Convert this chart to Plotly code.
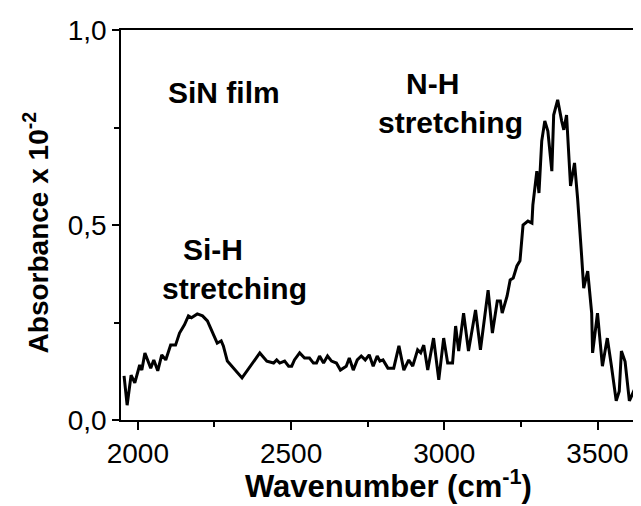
import plotly.graph_objects as go

# FTIR spectrum of SiN film
wavenumber = [
    1955, 1965, 1978, 1990, 2006, 2013, 2023, 2042, 2052, 2065, 2078, 2091,
    2107, 2123, 2136, 2152, 2165, 2175, 2194, 2211, 2227, 2243, 2259, 2272,
    2279, 2292, 2340, 2398, 2421, 2443, 2453, 2463, 2479, 2492, 2502, 2511,
    2528, 2544, 2560, 2573, 2583, 2593, 2606, 2619, 2632, 2648, 2661, 2680,
    2690, 2703, 2716, 2729, 2742, 2755, 2768, 2781, 2790, 2800, 2816, 2835,
    2852, 2868, 2884, 2897, 2913, 2923, 2933, 2946, 2965, 2982, 2998, 3011,
    3027, 3037, 3047, 3063, 3079, 3102, 3118, 3143, 3157, 3173, 3183, 3189,
    3205, 3215, 3225, 3237, 3247, 3257, 3273, 3286, 3289, 3302, 3309, 3318,
    3328, 3338, 3351, 3357, 3370, 3383, 3390, 3399, 3402, 3412, 3425, 3435,
    3448, 3455, 3468, 3481, 3484, 3500, 3516, 3532, 3545, 3561, 3571, 3578,
    3590, 3604, 3620, 3629,
]
absorbance = [
    0.113, 0.038, 0.115, 0.095, 0.141, 0.128, 0.172, 0.133, 0.154, 0.126, 0.167, 0.154,
    0.192, 0.192, 0.223, 0.244, 0.267, 0.262, 0.272, 0.267, 0.254, 0.223, 0.197, 0.203,
    0.190, 0.151, 0.108, 0.172, 0.151, 0.146, 0.154, 0.146, 0.151, 0.138, 0.138, 0.154,
    0.172, 0.159, 0.159, 0.146, 0.146, 0.164, 0.146, 0.164, 0.151, 0.146, 0.128, 0.138,
    0.159, 0.128, 0.154, 0.164, 0.154, 0.167, 0.138, 0.164, 0.151, 0.154, 0.133, 0.133,
    0.190, 0.128, 0.154, 0.138, 0.180, 0.172, 0.192, 0.128, 0.210, 0.103, 0.210, 0.146,
    0.146, 0.241, 0.177, 0.274, 0.177, 0.282, 0.180, 0.333, 0.223, 0.305, 0.305, 0.274,
    0.318, 0.359, 0.364, 0.395, 0.408, 0.500, 0.510, 0.505, 0.551, 0.638, 0.582, 0.715,
    0.767, 0.741, 0.638, 0.782, 0.821, 0.767, 0.744, 0.782, 0.731, 0.600, 0.659, 0.569,
    0.423, 0.338, 0.382, 0.274, 0.172, 0.274, 0.138, 0.210, 0.141, 0.049, 0.074, 0.177,
    0.150, 0.049, 0.077, 0.005,
]

# peak labels
labels = ["SiN film", "Si-H", "stretching", "N-H", "stretching"]
label_x = [2280, 2244, 2316, 2963, 3021]
label_y = [0.841, 0.438, 0.336, 0.862, 0.764]

FONT = 'Liberation Sans, Arial'

fig = go.Figure()
fig.add_trace(go.Scatter(
    x=wavenumber,
    y=absorbance,
    mode='lines',
    line=dict(color='black', width=3),
    showlegend=False,
))

for text, lx, ly in zip(labels, label_x, label_y):
    fig.add_annotation(
        x=lx, y=ly, text=f"<b>{text}</b>", showarrow=False,
        font=dict(size=30, color='black', family=FONT),
    )

# axis titles as paper annotations so they sit where the reference has them
fig.add_annotation(
    xref='paper', yref='paper', x=0.51, y=-0.163,
    text='<b>Wavenumber (cm<sup>-1</sup>)</b>', showarrow=False,
    font=dict(size=31, color='black', family=FONT),
    xanchor='center', yanchor='middle',
)
fig.add_annotation(
    xref='paper', yref='paper', x=-0.163, y=0.48,
    text='<b>Absorbance x 10<sup>-2</sup></b>', showarrow=False,
    textangle=-90,
    font=dict(size=28, color='black', family=FONT),
    xanchor='center', yanchor='middle',
)

fig.update_layout(
    width=641,
    height=506,
    margin=dict(l=113, r=2, t=22, b=94),
    paper_bgcolor='white',
    plot_bgcolor='white',
    separators=',.',
    font=dict(family=FONT, color='black', size=28),
)

fig.update_xaxes(
    range=[1945, 3655],
    tickvals=[2000, 2500, 3000, 3500],
    ticks='outside', ticklen=8, tickwidth=1.5, tickcolor='black',
    minor=dict(tickvals=[2250, 2750, 3250], ticks='outside', ticklen=5,
               tickwidth=1.5, tickcolor='black'),
    showline=True, linecolor='black', linewidth=1.5, mirror=True,
    showgrid=False, zeroline=False,
    tickfont=dict(size=28),
)
fig.update_yaxes(
    range=[0, 1],
    tickvals=[0, 0.5, 1.0],
    tickformat='.1f',
    ticks='outside', ticklen=7, tickwidth=1.5, tickcolor='black',
    minor=dict(tickvals=[0.25, 0.75], ticks='outside', ticklen=5,
               tickwidth=1.5, tickcolor='black'),
    showline=True, linecolor='black', linewidth=1.5, mirror=True,
    showgrid=False, zeroline=False,
    tickfont=dict(size=28),
)

fig.write_html("out.html")
